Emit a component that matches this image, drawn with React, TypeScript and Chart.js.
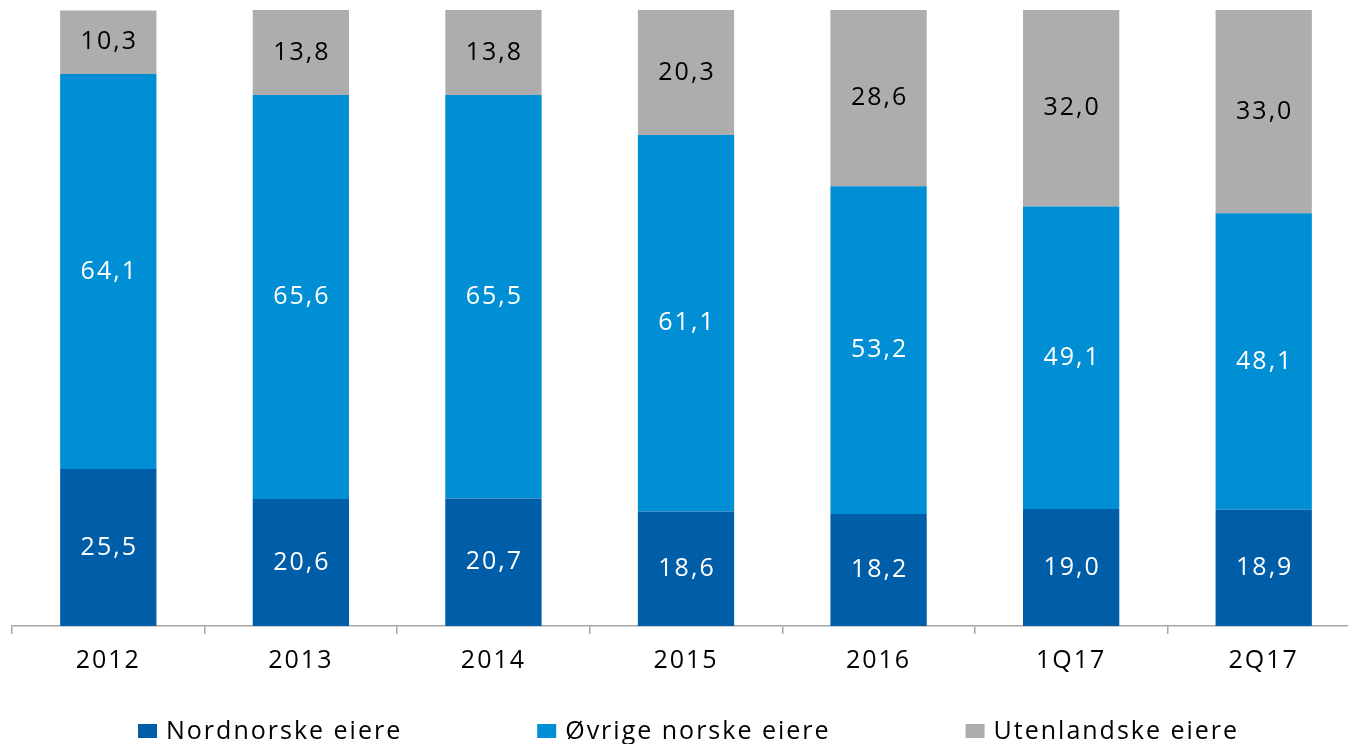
import React, { useEffect, useRef } from "react";
import { Chart, registerables } from "chart.js";

Chart.register(...registerables);

const categories = ["2012", "2013", "2014", "2015", "2016", "1Q17", "2Q17"];
const nordnorske = [25.5, 20.6, 20.7, 18.6, 18.2, 19.0, 18.9];
const ovrige = [64.1, 65.6, 65.5, 61.1, 53.2, 49.1, 48.1];
const utenlandske = [10.3, 13.8, 13.8, 20.3, 28.6, 32.0, 33.0];
const seriesNames = ["Nordnorske eiere", "Øvrige norske eiere", "Utenlandske eiere"];

const COLORS = ["#005DA8", "#008FD5", "#ADADAD"];
const LABEL_COLORS = ["#FFFFFF", "#FFFFFF", "#000000"];
const FONT = "'Open Sans', 'DejaVu Sans', sans-serif";

const spacingPlugin = {
  id: "spacing",
  beforeDraw(chart: any) {
    (chart.ctx as any).letterSpacing = "2px";
  },
};

const dataLabelPlugin = {
  id: "dataLabels",
  afterDatasetsDraw(chart: any) {
    const ctx = chart.ctx;
    ctx.save();
    (ctx as any).letterSpacing = "2px";
    ctx.font = `25px ${FONT}`;
    ctx.textAlign = "center";
    ctx.textBaseline = "middle";
    chart.data.datasets.forEach((ds: any, di: number) => {
      const meta = chart.getDatasetMeta(di);
      meta.data.forEach((el: any, i: number) => {
        const v = ds.data[i] as number;
        const txt = v.toFixed(1).replace(".", ",");
        ctx.fillStyle = LABEL_COLORS[di];
        ctx.fillText(txt, el.x + 1, (el.y + el.base) / 2);
      });
    });
    ctx.restore();
  },
};

const legendPlugin = {
  id: "customLegend",
  afterDraw(chart: any) {
    const ctx = chart.ctx;
    ctx.save();
    (ctx as any).letterSpacing = "2px";
    ctx.font = `25px ${FONT}`;
    ctx.textAlign = "left";
    ctx.textBaseline = "alphabetic";
    let x = 138;
    const baseline = 739;
    seriesNames.forEach((name, i) => {
      ctx.fillStyle = COLORS[i];
      ctx.fillRect(x, 724, 19, 14);
      ctx.fillStyle = "#000000";
      const tx = x + 28;
      ctx.fillText(name, tx, baseline);
      x = tx + ctx.measureText(name).width + 135;
    });
    ctx.restore();
  },
};

export default function App() {
  const ref = useRef<HTMLCanvasElement | null>(null);
  useEffect(() => {
    if (!ref.current) return;
    const chart = new Chart(ref.current, {
      type: "bar",
      data: {
        labels: categories,
        datasets: [
          { label: seriesNames[0], data: nordnorske, backgroundColor: COLORS[0] },
          { label: seriesNames[1], data: ovrige, backgroundColor: COLORS[1] },
          { label: seriesNames[2], data: utenlandske, backgroundColor: COLORS[2] },
        ],
      },
      options: {
        responsive: false,
        animation: false,
        events: [],
        layout: { padding: { left: 12, right: 0, top: 10, bottom: 0 } },
        datasets: {
          bar: { barPercentage: 0.5, categoryPercentage: 1.0 },
        },
        plugins: {
          legend: { display: false },
          tooltip: { enabled: false },
        },
        scales: {
          x: {
            stacked: true,
            offset: true,
            afterFit: (s: any) => {
              s.height = 118;
            },
            grid: {
              display: true,
              offset: true,
              drawOnChartArea: false,
              drawTicks: true,
              tickLength: 8,
              color: "#A6A6A6",
              lineWidth: 1.5,
            },
            border: { display: true, color: "#A6A6A6", width: 1.5 },
            ticks: {
              color: "#000000",
              font: { family: FONT, size: 25 },
              padding: 12,
              maxRotation: 0,
              autoSkip: false,
            },
          },
          y: {
            stacked: true,
            display: false,
            min: 0,
            max: 100,
          },
        },
      },
      plugins: [spacingPlugin, dataLabelPlugin, legendPlugin],
    });
    return () => chart.destroy();
  }, []);
  return (
    <div
      style={{
        position: "absolute",
        left: 0,
        top: 0,
        width: 1348,
        height: 744,
        overflow: "hidden",
      }}
    >
      <canvas ref={ref} width={1360} height={744} style={{ display: "block" }} />
    </div>
  );
}
